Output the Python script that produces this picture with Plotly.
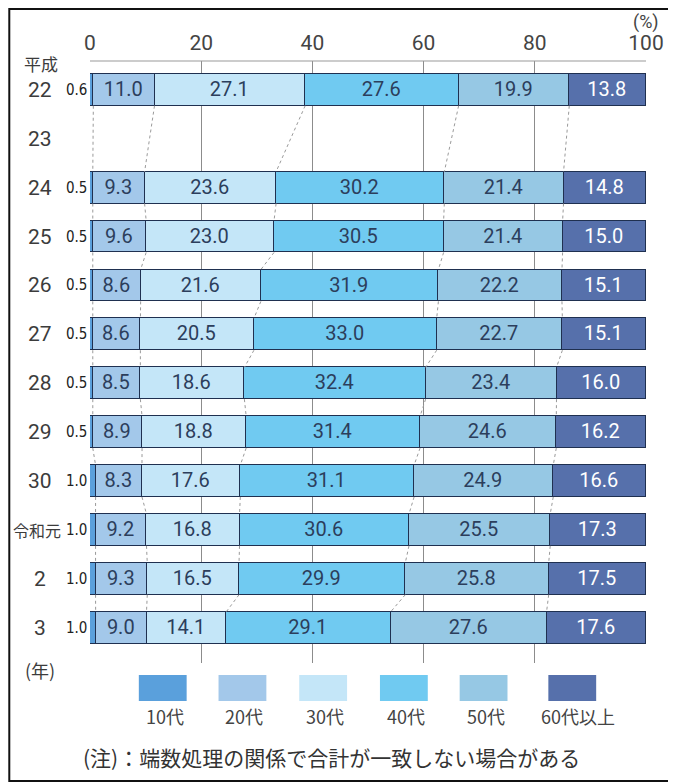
import plotly.graph_objects as go

# ---------------- data ----------------
years = ["22", "23", "24", "25", "26", "27", "28", "29", "30", "令和元", "2", "3"]
series_names = ["10代", "20代", "30代", "40代", "50代", "60代以上"]
s10 = [0.6, None, 0.5, 0.5, 0.5, 0.5, 0.5, 0.5, 1.0, 1.0, 1.0, 1.0]
s20 = [11.0, None, 9.3, 9.6, 8.6, 8.6, 8.5, 8.9, 8.3, 9.2, 9.3, 9.0]
s30 = [27.1, None, 23.6, 23.0, 21.6, 20.5, 18.6, 18.8, 17.6, 16.8, 16.5, 14.1]
s40 = [27.6, None, 30.2, 30.5, 31.9, 33.0, 32.4, 31.4, 31.1, 30.6, 29.9, 29.1]
s50 = [19.9, None, 21.4, 21.4, 22.2, 22.7, 23.4, 24.6, 24.9, 25.5, 25.8, 27.6]
s60 = [13.8, None, 14.8, 15.0, 15.1, 15.1, 16.0, 16.2, 16.6, 17.3, 17.5, 17.6]
x_ticks = [0, 20, 40, 60, 80, 100]
note = "(注)：端数処理の関係で合計が一致しない場合がある"

series = [s10, s20, s30, s40, s50, s60]
colors = ["#5aa0dc", "#a3c8ea", "#c4e6f8", "#70caf1", "#96c8e4", "#5670ab"]
text_colors = ["#2c3e5c", "#2c3e5c", "#2c3e5c", "#2c3e5c", "#2c3e5c", "#ffffff"]

# ---------------- geometry ----------------
# the page body has an 8px margin, so the figure starts at screen (8, 8)
OFF = 8
W, H = 676 - OFF, 783 - OFF
L, R, T, B = 90 - OFF, 28, 61 - OFF, 120
PW, PH = W - L - R, H - T - B


def px(x):  # screen x -> paper
    return (x - OFF - L) / PW


def py(y):  # screen y -> paper
    return (H - B - (y - OFF)) / PH


BAR_W = 0.65
FONT = "Roboto, 'Noto Sans CJK JP', sans-serif"
JFONT = "'Noto Sans CJK JP', Roboto, sans-serif"

idx = list(range(len(years)))
fig = go.Figure()

for name, vals, col, tc in zip(series_names, series, colors, text_colors):
    txt = [("" if (v is None or name == "10代") else f"{v:.1f}") for v in vals]
    fig.add_trace(go.Bar(
        y=idx, x=vals, orientation="h", name=name, width=BAR_W,
        marker=dict(color=col, line=dict(color="#1f3050", width=1.5)),
        text=txt, textposition="inside", insidetextanchor="middle",
        textangle=0, constraintext="none", texttemplate="%{text}",
        textfont=dict(family=FONT, size=20, color=tc),
        showlegend=False, hovertemplate=name + ": %{text}<extra></extra>",
    ))

# dotted connectors between boundaries of consecutive bars (normalised like barnorm)
valid = [i for i in idx if s10[i] is not None]
cums = []
for i in idx:
    if s10[i] is None:
        cums.append(None)
        continue
    total = sum(s[i] for s in series)
    c, acc = [], 0.0
    for s in series[:-1]:
        acc += s[i]
        c.append(acc / total * 100)
    cums.append(c)

for k in range(len(series) - 1):
    xs, ys = [], []
    for a, b in zip(valid[:-1], valid[1:]):
        xs += [cums[a][k], cums[b][k], None]
        ys += [a + BAR_W / 2, b - BAR_W / 2, None]
    fig.add_trace(go.Scatter(
        x=xs, y=ys, mode="lines", showlegend=False, hoverinfo="skip",
        line=dict(color="#9a9a9a", width=1, dash="dot"),
    ))

annotations = []
for i, lab in enumerate(years):
    jp = lab == "令和元"
    annotations.append(dict(
        x=px(37 if jp else 40), y=i, xref="paper", yref="y", text=lab, showarrow=False,
        xanchor="center", yanchor="middle",
        font=dict(family=JFONT if jp else FONT, size=16 if jp else 21, color="#3c3c3c"),
    ))
    if s10[i] is not None:
        annotations.append(dict(
            x=px(76), y=i, xref="paper", yref="y", text=f"{s10[i]:.1f}",
            showarrow=False, xanchor="center", yanchor="middle",
            font=dict(family="'Liberation Sans Narrow', 'DejaVu Sans Condensed', Roboto",
                      size=15, color="#222222"),
        ))

annotations += [
    dict(x=px(41), y=py(63), xref="paper", yref="paper", text="平成",
         showarrow=False, xanchor="center", yanchor="middle",
         font=dict(family=JFONT, size=17, color="#3c3c3c")),
    dict(x=px(648), y=py(22), xref="paper", yref="paper", text="(%)",
         showarrow=False, xanchor="center", yanchor="middle",
         font=dict(family=FONT, size=18, color="#444444")),
    dict(x=px(40), y=py(670), xref="paper", yref="paper", text="(年)",
         showarrow=False, xanchor="center", yanchor="middle",
         font=dict(family=JFONT, size=18, color="#3c3c3c")),
    dict(x=px(332), y=py(757), xref="paper", yref="paper", text=note,
         showarrow=False, xanchor="center", yanchor="middle",
         font=dict(family=JFONT, size=21, color="#333333")),
]

shapes = []
leg_left = [139, 219, 300, 381, 461, 550]
for name, col, x0 in zip(series_names, colors, leg_left):
    shapes.append(dict(type="rect", xref="paper", yref="paper",
                       x0=px(x0), x1=px(x0 + 48), y0=py(701), y1=py(675),
                       fillcolor=col, line=dict(width=0)))
    annotations.append(dict(
        x=px(x0 + 24 + (6 if len(name) > 3 else 2)), y=py(716), xref="paper", yref="paper",
        text=name, showarrow=False, xanchor="center", yanchor="middle",
        font=dict(family=JFONT, size=18, color="#444444")))

# outer frame
shapes.append(dict(type="rect", xref="paper", yref="paper",
                   x0=px(9), x1=px(673), y0=py(781), y1=py(9),
                   line=dict(color="#111111", width=2), fillcolor="rgba(0,0,0,0)"))
# top axis line
shapes.append(dict(type="line", xref="paper", yref="paper",
                   x0=0, x1=1, y0=1, y1=1, line=dict(color="#999999", width=1)))

fig.update_layout(
    width=W, height=H,
    margin=dict(l=L, r=R, t=T, b=B),
    barmode="stack", barnorm="percent", bargap=0,
    plot_bgcolor="white", paper_bgcolor="white",
    font=dict(family=FONT, color="#444444"),
    xaxis=dict(side="top", range=[0, 100], tickvals=x_ticks,
               showgrid=True, gridcolor="#8c8c8c", gridwidth=1,
               zeroline=False, showline=False, ticks="", ticklabelstandoff=6,
               tickfont=dict(family=FONT, size=21, color="#444444"),
               fixedrange=True),
    yaxis=dict(range=[11.72, -0.59], showticklabels=False, showgrid=False,
               zeroline=False, showline=False, ticks="", fixedrange=True),
    annotations=annotations, shapes=shapes,
)

fig.write_html("out.html")
